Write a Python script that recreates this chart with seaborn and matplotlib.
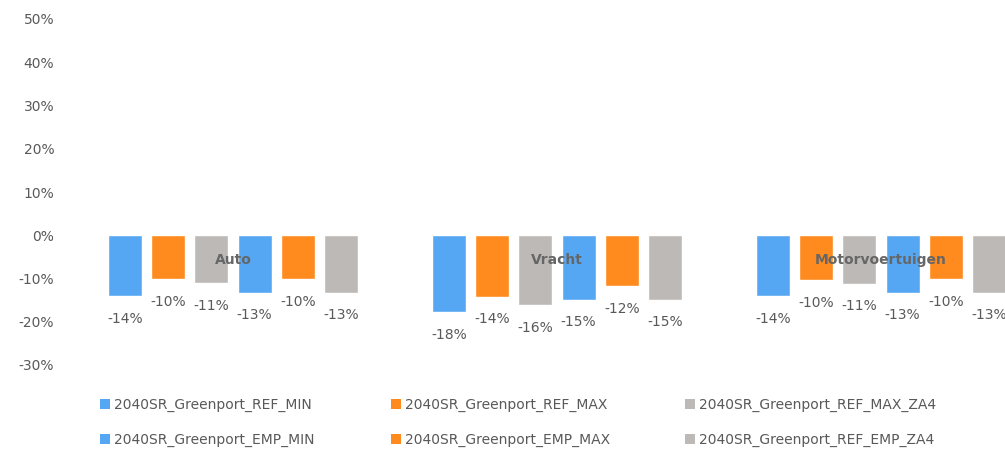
import pandas as pd
import matplotlib.pyplot as plt
import seaborn as sns
from matplotlib.patches import Patch

# chart data (percent change)
categories = ["Auto", "Vracht", "Motorvoertuigen"]
series = ["2040SR_Greenport_REF_MIN", "2040SR_Greenport_REF_MAX", "2040SR_Greenport_REF_MAX_ZA4",
          "2040SR_Greenport_EMP_MIN", "2040SR_Greenport_EMP_MAX", "2040SR_Greenport_REF_EMP_ZA4"]
ref_min = [-14.1, -17.8, -14.1]
ref_max = [-10.2, -14.3, -10.4]
ref_max_za4 = [-11.1, -16.2, -11.3]
emp_min = [-13.4, -15.0, -13.4]
emp_max = [-10.2, -11.8, -10.2]
ref_emp_za4 = [-13.4, -15.0, -13.4]
y_ticks = [-30, -20, -10, 0, 10, 20, 30, 40, 50]

colors = ["#56A7F3", "#FF8A1E", "#BDB9B6", "#56A7F3", "#FF8A1E", "#BDB9B6"]
txt = "#595959"

rows = []
for name, vals in zip(series, [ref_min, ref_max, ref_max_za4, emp_min, emp_max, ref_emp_za4]):
    for cat, v in zip(categories, vals):
        rows.append({"cat": cat, "series": name, "val": v})
df = pd.DataFrame(rows)

sns.set_style("white")
plt.rcParams["font.family"] = ["DejaVu Sans"]

fig = plt.figure(figsize=(10.05, 4.49), dpi=100)
ax = fig.add_axes([71 / 1005, 84 / 449, 972 / 1005, 346 / 449])

sns.barplot(data=df, x="cat", y="val", hue="series", hue_order=series,
            palette=colors, gap=0.21, ax=ax, legend=False, saturation=1)

for cont in ax.containers:
    ax.bar_label(cont, labels=[f"{v:.0f}%" for v in cont.datavalues],
                 padding=11, fontsize=10, color=txt)

ax.set_xlim(-0.5, 2.5)
ax.set_ylim(-30, 50)
ax.set_yticks(y_ticks)
ax.set_yticklabels([f"{t}%" for t in y_ticks], color=txt, fontsize=10)
ax.tick_params(axis="y", length=0, pad=12)
ax.tick_params(axis="x", length=0, pad=13)
ax.spines["bottom"].set_position(("data", 0))
for s in ["top", "right", "left", "bottom"]:
    ax.spines[s].set_visible(False)
ax.xaxis.set_zorder(5)
ax.set_xlabel("")
ax.set_ylabel("")
for lbl in ax.get_xticklabels():
    lbl.set_fontweight("bold")
    lbl.set_color("#666666")
    lbl.set_fontsize(10)

# legend: three columns of two entries
col_x = [100 / 1005, 391 / 1005, 685 / 1005]
for i, x in enumerate(col_x):
    idx = [i, i + 3]
    handles = [Patch(facecolor=colors[j], edgecolor="none") for j in idx]
    leg = fig.legend(handles, [series[j] for j in idx], loc="upper left",
                     bbox_to_anchor=(x, 51 / 449), frameon=False, fontsize=10,
                     handlelength=0.7, handleheight=0.7, handletextpad=0.3,
                     labelspacing=1.5, borderaxespad=0, borderpad=0)
    for t in leg.get_texts():
        t.set_color(txt)

fig.savefig("out.png", dpi=100)
